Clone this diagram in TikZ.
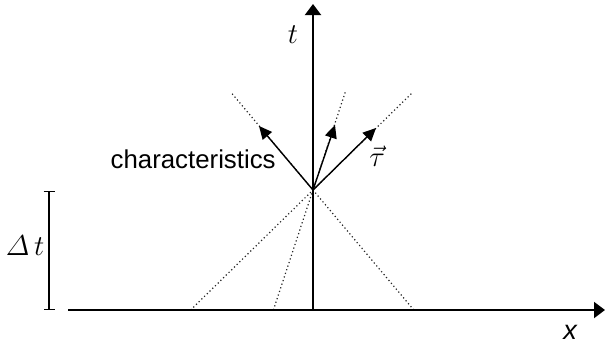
\documentclass[tikz,border=0pt]{standalone}
\usepackage{amsmath}
\usepackage{fontspec}
\newfontfamily\helv{Liberation Sans}
\usetikzlibrary{arrows.meta}

\begin{document}
\begin{tikzpicture}[x=0.5pt, y=-0.5pt, >={Triangle[length=6.5pt, width=6pt]},
    every node/.style={font=\fontsize{13.5}{15}\selectfont, inner sep=0pt},
    axis/.style={->, line width=1pt, >={Triangle[length=5.5pt, width=8pt]}},
    charline/.style={line width=0.6pt, black!85, dash pattern=on 0.6pt off 1.3pt},
    chararrow/.style={->, line width=0.7pt}]
    \useasboundingbox (0,0) rectangle (605,345);
    \coordinate (origin) at (313,310);
    \coordinate (apex) at (313,190);
    \coordinate (xstart) at (68,310);
    \coordinate (xend) at (605,310);
    \coordinate (tend) at (313,4);
    % characteristics through the apex
    \coordinate (footA) at (413.8,310);
    \coordinate (endA) at (230.7,92);
    \coordinate (tipA) at (259,126);
    \coordinate (footB) at (273.4,310);
    \coordinate (endB) at (345.3,92);
    \coordinate (tipB) at (335,125);
    \coordinate (footC) at (190.6,310);
    \coordinate (endC) at (413,92);
    \coordinate (tipC) at (376,128);
    \draw[charline] (footA) -- (endA);
    \draw[charline] (footB) -- (endB);
    \draw[charline] (footC) -- (endC);
    \draw[axis] (xstart) -- (xend);
    \draw[axis] (origin) -- (tend);
    \draw[chararrow] (apex) -- (tipA);
    \draw[chararrow] (apex) -- (tipB);
    \draw[chararrow] (apex) -- (tipC);
    % time step
    \coordinate (dttop) at (49,191);
    \coordinate (dtbot) at (49,310);
    \draw[{Bar[width=5.5pt]}-{Bar[width=5.5pt]}, line width=0.7pt] (dttop) -- (dtbot);
    \node (dtlabel) at (25,246) {$\varDelta\,t$};
    \node (tlabel) at (293,35) {$t$};
    \node[font=\fontsize{13.5}{15}\selectfont\helv\itshape] (xlabel) at (570,332) {x};
    \node[anchor=east, font=\fontsize{12.9}{15}\selectfont\helv] (charlabel) at (276,159) {characteristics};
    \node (taulabel) at (377,156) {$\vec{\tau}$};
\end{tikzpicture}
\end{document}
